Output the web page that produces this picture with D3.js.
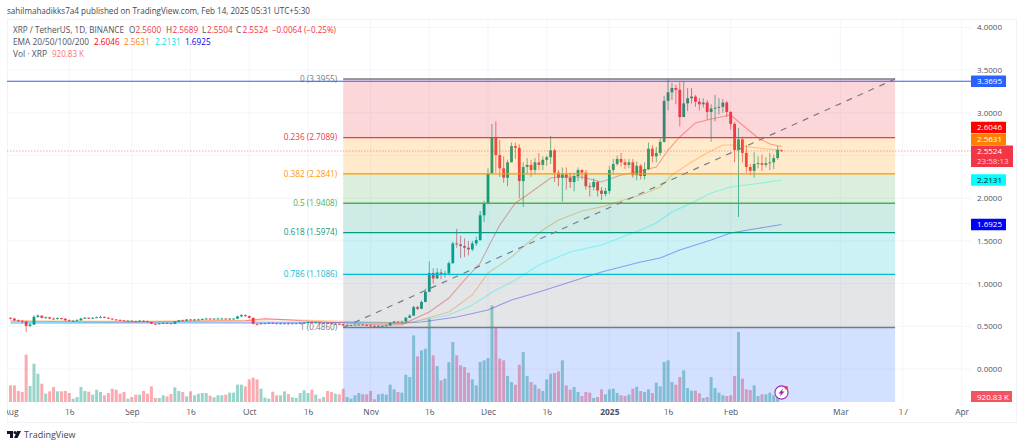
<!DOCTYPE html>
<html>
<head>
<meta charset="utf-8">
<script src="https://cdn.jsdelivr.net/npm/d3@7"></script>
<style>
  html, body { margin: 0; padding: 0; background: #fff; overflow: hidden; }
  text { font-family: "Open Sans", "Liberation Sans", sans-serif; }
  .tick text { font-family: "Open Sans", "Liberation Sans", sans-serif; }
</style>
</head>
<body>
<svg id="chart" width="1024" height="447"></svg>
<script>
// Daily candles from 1 Aug 2024 to 14 Feb 2025
const firstDay = new Date(Date.UTC(2024, 7, 1));
const firstOpen = 0.60;
const lastOpen = 2.56;

const closes = [
  0.590,0.570,0.565,0.555,0.505,0.520,0.610,0.625,0.600,0.605,0.590,0.585,0.595,0.590,0.570,0.565,0.565,0.570,0.590,0.600,0.590,0.600,0.605,0.610,0.600,0.590,0.580,0.575,0.570,0.565,0.565,
  0.560,0.555,0.565,0.560,0.550,0.530,0.525,0.535,0.540,0.535,0.530,0.555,0.570,0.565,0.580,0.570,0.580,0.580,0.585,0.590,0.585,0.590,0.590,0.590,0.585,0.590,0.590,0.615,0.630,0.620,
  0.600,0.530,0.525,0.535,0.535,0.540,0.535,0.530,0.535,0.535,0.530,0.535,0.535,0.540,0.540,0.550,0.545,0.545,0.540,0.540,0.535,0.530,0.530,0.525,0.510,0.515,0.515,0.520,0.520,0.515,0.510,
  0.505,0.500,0.505,0.505,0.510,0.540,0.555,0.550,0.555,0.600,0.625,0.725,0.705,0.785,0.905,1.125,1.06,1.13,1.11,1.12,1.24,1.47,1.46,1.44,1.42,1.40,1.47,1.51,1.80,1.94,
  2.29,2.71,2.505,2.35,2.24,2.42,2.61,2.59,2.20,2.365,2.39,2.33,2.42,2.39,2.45,2.48,2.56,2.30,2.24,2.28,2.24,2.19,2.26,2.33,2.30,2.14,2.13,2.19,2.09,2.05,2.085,
  2.33,2.40,2.46,2.42,2.39,2.42,2.27,2.38,2.26,2.34,2.58,2.49,2.53,2.66,3.14,3.24,3.29,3.27,2.95,3.11,3.17,3.19,3.13,3.10,3.12,3.01,3.05,3.06,3.07,3.12,3.01,
  2.87,2.565,2.69,2.53,2.365,2.32,2.40,2.41,2.39,2.41,2.42,2.47,2.565,2.5524
];
const highs = [
  0.605,0.60,0.58,0.57,0.565,0.54,0.63,0.64,0.625,0.615,0.61,0.60,0.605,0.60,0.59,0.58,0.575,0.585,0.60,0.61,0.605,0.605,0.615,0.625,0.615,0.605,0.59,0.585,0.58,0.575,0.575,
  0.57,0.565,0.575,0.57,0.565,0.55,0.535,0.54,0.545,0.545,0.54,0.56,0.575,0.58,0.585,0.585,0.585,0.59,0.595,0.60,0.595,0.595,0.60,0.60,0.595,0.595,0.595,0.625,0.645,0.64,
  0.625,0.60,0.535,0.54,0.54,0.545,0.545,0.54,0.54,0.54,0.54,0.54,0.54,0.545,0.55,0.555,0.555,0.55,0.55,0.545,0.545,0.54,0.535,0.535,0.53,0.525,0.52,0.525,0.525,0.525,0.525,
  0.52,0.515,0.515,0.515,0.52,0.55,0.565,0.565,0.565,0.61,0.64,0.74,0.74,0.80,0.94,1.26,1.18,1.18,1.17,1.15,1.26,1.49,1.64,1.56,1.53,1.50,1.50,1.55,1.85,1.97,
  2.35,2.87,2.90,2.68,2.49,2.45,2.65,2.65,2.63,2.42,2.47,2.45,2.47,2.53,2.49,2.50,2.73,2.58,2.33,2.36,2.36,2.30,2.30,2.36,2.34,2.33,2.18,2.23,2.20,2.13,2.12,
  2.38,2.46,2.50,2.53,2.46,2.46,2.46,2.43,2.40,2.42,2.65,2.62,2.60,2.70,3.20,3.40,3.35,3.33,3.36,3.37,3.29,3.29,3.21,3.17,3.17,3.15,3.10,3.21,3.17,3.16,3.14,
  3.02,2.89,2.82,2.72,2.62,2.40,2.54,2.49,2.51,2.48,2.53,2.51,2.61,2.5689
];
const lows = [
  0.58,0.56,0.555,0.53,0.435,0.49,0.52,0.60,0.59,0.59,0.585,0.58,0.58,0.58,0.565,0.56,0.555,0.56,0.565,0.585,0.585,0.585,0.60,0.60,0.595,0.585,0.575,0.57,0.56,0.56,0.555,
  0.55,0.55,0.55,0.55,0.545,0.525,0.515,0.52,0.53,0.53,0.525,0.525,0.55,0.56,0.56,0.565,0.565,0.575,0.575,0.58,0.58,0.58,0.585,0.585,0.58,0.58,0.585,0.585,0.61,0.61,
  0.59,0.52,0.51,0.52,0.53,0.53,0.53,0.525,0.525,0.53,0.52,0.53,0.53,0.53,0.53,0.535,0.54,0.535,0.53,0.53,0.53,0.525,0.52,0.515,0.50,0.505,0.505,0.51,0.515,0.51,0.505,
  0.495,0.49,0.49,0.50,0.50,0.505,0.535,0.54,0.545,0.55,0.595,0.62,0.69,0.70,0.78,0.90,1.00,1.06,1.05,1.07,1.10,1.23,1.42,1.30,1.31,1.33,1.38,1.44,1.50,1.72,
  1.93,2.28,2.30,2.25,2.18,2.14,2.42,2.46,2.00,1.90,2.28,2.25,2.28,2.33,2.33,2.38,2.40,2.19,2.14,1.96,2.10,2.12,2.08,2.20,2.22,2.10,2.02,2.09,2.02,1.98,2.02,
  2.05,2.28,2.38,2.37,2.34,2.35,2.24,2.21,2.22,2.22,2.33,2.42,2.42,2.50,2.65,3.03,3.15,3.10,2.84,2.95,3.02,3.11,3.07,3.03,3.06,2.92,2.66,2.90,2.98,3.00,2.95,
  2.80,2.42,1.78,2.42,2.30,2.27,2.24,2.35,2.32,2.36,2.33,2.34,2.45,2.5504
];
// volume as read, in thirds of a pixel of bar height
const volumes = [
  50,50,33,30,142,48,115,85,55,25,32,45,32,32,33,27,10,15,45,33,31,22,37,30,20,27,40,37,25,30,10,15,22,22,33,25,47,12,12,20,17,24,44,33,30,17,32,20,25,27,27,19,14,20,20,22,28,28,52,52,47,68,73,68,40,13,10,31,20,20,32,24,14,12,27,35,27,37,22,10,15,33,30,25,23,40,
  15,10,20,27,23,23,33,8,23,25,22,52,38,30,28,82,75,200,137,155,160,250,140,108,65,70,120,180,140,110,105,88,68,50,120,125,132,290,222,130,125,78,60,52,112,150,78,60,52,40,
  33,68,85,87,92,125,50,37,45,30,18,30,28,12,15,38,23,38,40,27,20,18,22,40,46,33,30,38,27,58,47,120,125,60,52,75,95,42,34,34,26,12,15,75,42,28,20,18,20,78,210,70,38,36,50,18,23,23,28,20,15,0.2
];

// EMA curves, sampled where they could be read: day number and price
const ema20Days = [0,30,60,65,80,95,100,107,112,116,120,123,125,129,132,138,140,146,151,156,160,165,168,171,175,179,184,187,191,194,197];
const ema20Vals = [0.56,0.55,0.565,0.59,0.55,0.515,0.52,0.667,0.831,1.042,1.241,1.511,1.686,1.944,2.037,2.237,2.248,2.248,2.19,2.272,2.307,2.365,2.564,2.717,2.881,2.927,2.974,2.857,2.705,2.635,2.6046];
const ema50Days = [0,30,60,70,85,100,103,112,118,122,128,133,136,140,146,152,155,161,166,169,174,178,182,185,189,193,197];
const ema50Vals = [0.565,0.56,0.57,0.58,0.56,0.54,0.55,0.667,0.867,1.124,1.311,1.511,1.628,1.745,1.85,1.909,1.956,2.037,2.131,2.272,2.424,2.529,2.623,2.623,2.60,2.576,2.5631];
const ema100Days = [0,60,85,100,104,112,118,124,129,135,143,151,161,165,169,174,179,184,190,197];
const ema100Vals = [0.54,0.555,0.55,0.535,0.562,0.632,0.749,0.925,1.042,1.218,1.37,1.452,1.628,1.71,1.838,1.944,2.061,2.131,2.166,2.2131];
const ema200Days = [0,60,85,100,105,114,122,128,135,151,161,166,171,179,184,190,197];
const ema200Vals = [0.539,0.54,0.545,0.535,0.55,0.609,0.691,0.808,0.902,1.136,1.253,1.30,1.393,1.511,1.593,1.639,1.6925];

// Fibonacci retracement levels
const fibRatios = [0, 0.236, 0.382, 0.5, 0.618, 0.786, 1];
const fibPrices = [3.3955, 2.7089, 2.2841, 1.9408, 1.5974, 1.1086, 0.4860];
const fibColors = ["#787b86", "#f23645", "#ff9800", "#4caf50", "#089981", "#00bcd4", "#787b86"];
const fibFills = ["#f23645", "#ff9800", "#4caf50", "#089981", "#00bcd4", "#787b86"];
const fibStart = new Date(Date.UTC(2024, 9, 25));
const fibEnd = new Date(Date.UTC(2025, 2, 15));

const priceTicks = [0, 0.5, 1, 1.5, 2, 2.5, 3, 3.5, 4];
const priceLabelTicks = [0, 0.5, 1, 1.5, 2, 3, 3.5, 4]; // 2.5 sits under the last price tag
const timeTicks = [
  [2024,7,1],[2024,7,16],[2024,8,1],[2024,8,16],[2024,9,1],[2024,9,16],[2024,10,1],[2024,10,16],
  [2024,11,1],[2024,11,16],[2025,0,1],[2025,0,16],[2025,1,1],[2025,2,1],[2025,2,17],[2025,3,1]
].map(d => new Date(Date.UTC(d[0], d[1], d[2])));
const timeLabels = ["Aug","16","Sep","16","Oct","16","Nov","16","Dec","16","2025","16","Feb","Mar","17","Apr"];

const lastPrice = 2.5524;
const linePrice = 3.3695;

const svg = d3.select("#chart");

const x = d3.scaleUtc()
  .domain([firstDay, new Date(Date.UTC(2025, 3, 1))])
  .range([10.5, 961.6]);
const y = d3.scaleLinear().domain([0, 4]).range([369, 27.4]);
const yVol = d3.scaleLinear().domain([0, 100]).range([402, 368.7]);

const plotLeft = 7, plotRight = 971, plotTop = 19, plotBottom = 402;

const dayX = i => x(d3.utcDay.offset(firstDay, i));
const candles = closes.map((c, i) => ({
  i: i,
  open: i === 0 ? firstOpen : (i === closes.length - 1 ? lastOpen : closes[i - 1]),
  close: c,
  high: highs[i],
  low: lows[i],
  vol: volumes[i]
}));

const defs = svg.append("defs");
defs.append("clipPath").attr("id", "plotClip")
  .append("rect")
  .attr("x", plotLeft).attr("y", plotTop)
  .attr("width", plotRight - plotLeft).attr("height", plotBottom - plotTop);
defs.append("clipPath").attr("id", "timeClip")
  .append("rect").attr("x", plotLeft).attr("y", 0).attr("width", 1000).attr("height", 20);

// outer frame
svg.append("rect")
  .attr("x", 7.5).attr("y", 19.5)
  .attr("width", 1009).attr("height", 403)
  .attr("fill", "none").attr("stroke", "#f0f3fa");

// grid
const grid = svg.append("g").attr("stroke", "#f3f5f9");
grid.selectAll(".gh").data(priceTicks).enter().append("line")
  .attr("x1", plotLeft).attr("x2", plotRight)
  .attr("y1", d => y(d)).attr("y2", d => y(d));
grid.selectAll(".gv").data(timeTicks.slice(1)).enter().append("line")
  .attr("x1", d => x(d)).attr("x2", d => x(d))
  .attr("y1", plotTop).attr("y2", plotBottom);

const plot = svg.append("g").attr("clip-path", "url(#plotClip)");

// volume bars
plot.append("g").selectAll("rect").data(candles).enter().append("rect")
  .attr("x", d => dayX(d.i) - 1.5)
  .attr("width", 3)
  .attr("y", d => yVol(d.vol))
  .attr("height", d => 402 - yVol(d.vol))
  .attr("fill", d => d.close >= d.open ? "#089981" : "#f23645")
  .attr("opacity", 0.42);

// EMA lines
const emaLine = d3.line().x(d => dayX(d[0])).y(d => y(d[1]));
[
  [ema200Days, ema200Vals, "#0000ff"],
  [ema100Days, ema100Vals, "#00ffff"],
  [ema50Days, ema50Vals, "#ff7f00"],
  [ema20Days, ema20Vals, "#ff0000"]
].forEach(s => {
  plot.append("path")
    .attr("d", emaLine(d3.zip(s[0], s[1])))
    .attr("fill", "none")
    .attr("stroke", s[2])
    .attr("stroke-width", 1.1)
    .attr("opacity", 0.38);
});

// candles
const candle = plot.append("g").selectAll("g").data(candles).enter().append("g")
  .attr("fill", d => d.close >= d.open ? "#089981" : "#f23645")
  .attr("stroke", d => d.close >= d.open ? "#089981" : "#f23645");
candle.append("line")
  .attr("x1", d => dayX(d.i)).attr("x2", d => dayX(d.i))
  .attr("y1", d => y(d.high)).attr("y2", d => y(d.low))
  .attr("stroke-width", 0.7);
candle.append("rect")
  .attr("x", d => dayX(d.i) - 1.4)
  .attr("width", 2.8)
  .attr("y", d => y(Math.max(d.open, d.close)))
  .attr("height", d => Math.max(0.9, Math.abs(y(d.open) - y(d.close))))
  .attr("stroke", "none");

// fib zones go over the series, the way the drawing tool paints them
const fibX0 = x(fibStart), fibX1 = x(fibEnd);
const fibG = svg.append("g");
fibFills.forEach((c, i) => {
  fibG.append("rect")
    .attr("x", fibX0).attr("width", fibX1 - fibX0)
    .attr("y", y(fibPrices[i]))
    .attr("height", y(fibPrices[i + 1]) - y(fibPrices[i]))
    .attr("fill", c).attr("opacity", 0.2);
});
// blue block below the last level
fibG.append("rect")
  .attr("x", fibX0).attr("width", fibX1 - fibX0)
  .attr("y", y(fibPrices[6]))
  .attr("height", plotBottom - y(fibPrices[6]))
  .attr("fill", "#2962ff").attr("opacity", 0.2);

fibPrices.forEach((p, i) => {
  fibG.append("line")
    .attr("x1", fibX0).attr("x2", fibX1)
    .attr("y1", y(p)).attr("y2", y(p))
    .attr("stroke", fibColors[i]).attr("stroke-width", 1.3);
  fibG.append("text")
    .attr("x", fibX0 - 6)
    .attr("y", y(p) + 2.6)
    .attr("text-anchor", "end")
    .attr("font-size", 8.2)
    .attr("fill", fibColors[i])
    .text(`${fibRatios[i]} (${p.toFixed(4)})`);
});

// dashed trend line across the fib block
fibG.append("line")
  .attr("x1", fibX0).attr("x2", fibX1)
  .attr("y1", y(fibPrices[6])).attr("y2", y(fibPrices[0]))
  .attr("stroke", "#787b86")
  .attr("stroke-width", 1.2)
  .attr("stroke-dasharray", "6 6");

// horizontal blue line and last price line
svg.append("line")
  .attr("x1", plotLeft).attr("x2", plotRight)
  .attr("y1", y(linePrice)).attr("y2", y(linePrice))
  .attr("stroke", "#2962ff").attr("stroke-width", 1.1);
svg.append("line")
  .attr("x1", plotLeft).attr("x2", plotRight)
  .attr("y1", y(lastPrice)).attr("y2", y(lastPrice))
  .attr("stroke", "#f23645").attr("stroke-width", 0.7)
  .attr("stroke-dasharray", "1.5 1.5").attr("opacity", 0.6);

// price axis
const priceAxis = d3.axisRight(y).tickValues(priceLabelTicks).tickFormat(d3.format(".4f")).tickSize(0).tickPadding(0);
const priceG = svg.append("g").attr("transform", "translate(977,0)").call(priceAxis);
priceG.select(".domain").remove();
priceG.selectAll("text").attr("font-size", 8).attr("fill", "#50535e");

// time axis
const timeAxis = d3.axisBottom(x).tickValues(timeTicks).tickFormat((d, i) => timeLabels[i]).tickSize(0).tickPadding(0);
const timeG = svg.append("g").attr("transform", "translate(0,409)").attr("clip-path", "url(#timeClip)").call(timeAxis);
timeG.select(".domain").remove();
timeG.selectAll("text")
  .attr("font-size", 8.4).attr("fill", "#50535e")
  .attr("font-weight", (d, i) => timeLabels[i] === "2025" ? "bold" : "normal");

// price tags on the axis
function priceTag(yMid, h, w, fill, lines, color) {
  svg.append("rect")
    .attr("x", 971).attr("y", yMid - h / 2)
    .attr("width", w).attr("height", h)
    .attr("fill", fill).attr("rx", 0.5);
  lines.forEach((t, i) => {
    svg.append("text")
      .attr("x", 977)
      .attr("y", yMid - h / 2 + 8.7 + i * 9.6)
      .attr("font-size", 8)
      .attr("fill", i === 0 ? color : "#ffd0d4")
      .text(t);
  });
}
priceTag(y(linePrice), 11.5, 35, "#2962ff", [linePrice.toFixed(4)], "#fff");
priceTag(127.5, 11.5, 35, "#ff0000", ["2.6046"], "#fff");
priceTag(139.5, 11.5, 35, "#ff7f00", ["2.5631"], "#fff");
priceTag(156.3, 21.5, 42, "#f23645", [lastPrice.toFixed(4), "23:58:13"], "#fff");
priceTag(y(2.2131), 11.5, 35, "#00ffff", ["2.2131"], "#131722");
priceTag(y(1.6925), 11.5, 35, "#0000ff", ["1.6925"], "#fff");
svg.append("rect").attr("x", 971).attr("y", 391).attr("width", 41).attr("height", 11).attr("fill", "#f7525f");
svg.append("text").attr("x", 977).attr("y", 399.5).attr("font-size", 8).attr("fill", "#fff").text("920.83 K");

// header and legend
svg.append("text").attr("x", 7).attr("y", 14).attr("font-size", 8.1).attr("fill", "#434651")
  .text("sahilmahadikks7a4 published on TradingView.com, Feb 14, 2025 05:31 UTC+5:30");

function legendText(xPos, yPos, str, color, width) {
  const t = svg.append("text").attr("x", xPos).attr("y", yPos).attr("font-size", 8.2).attr("fill", color).text(str);
  if (width) t.attr("textLength", width).attr("lengthAdjust", "spacingAndGlyphs");
}
const grey = "#50535e", red = "#f23645";
legendText(13, 33, "XRP / TetherUS, 1D, BINANCE", grey, 111);
[["O", "2.5600", 129], ["H", "2.5689", 166], ["L", "2.5504", 202], ["C", "2.5524", 236]].forEach(d => {
  legendText(d[2], 33, d[0], grey);
  legendText(d[2] + (d[0] === "L" ? 5 : 6.5), 33, d[1], red);
});
legendText(272, 33, "−0.0064 (−0.25%)", red, 64);
legendText(13, 45, "EMA 20/50/100/200", grey, 76);
legendText(94, 45, "2.6046", "#ff0000");
legendText(124, 45, "2.5631", "#ff7f00");
legendText(155, 45, "2.2131", "#00e5e5");
legendText(185, 45, "1.6925", "#0000ff");
legendText(13, 57, "Vol · XRP", grey, 34);
legendText(52, 57, "920.83 K", "#f7727c", 32);

// lightning badge near the last bar
const badge = svg.append("g").attr("transform", "translate(781.5,392.5)");
badge.append("circle").attr("r", 6.6).attr("fill", "#fff").attr("stroke", "#9c27b0").attr("stroke-width", 1.1);
badge.append("path").attr("d", "M1.5,-4 L-3,1 L-0.6,1 L-1.6,4 L3,-1 L0.5,-1 Z").attr("fill", "#9c27b0");
badge.append("circle").attr("cx", 4.8).attr("cy", -4.8).attr("r", 1.7).attr("fill", "#f23645");

// TradingView mark at the bottom
const logo = svg.append("g").attr("transform", "translate(7,431)").attr("fill", "#131722");
logo.append("path").attr("d", "M0,0 H6 V7 H3 V3 H0 Z");
logo.append("circle").attr("cx", 8).attr("cy", 1.5).attr("r", 1.5);
logo.append("path").attr("d", "M10,0 H14 L10.5,7 H7 Z");
svg.append("text").attr("x", 24).attr("y", 438).attr("font-size", 9).attr("fill", "#434651").text("TradingView");
</script>
</body>
</html>
